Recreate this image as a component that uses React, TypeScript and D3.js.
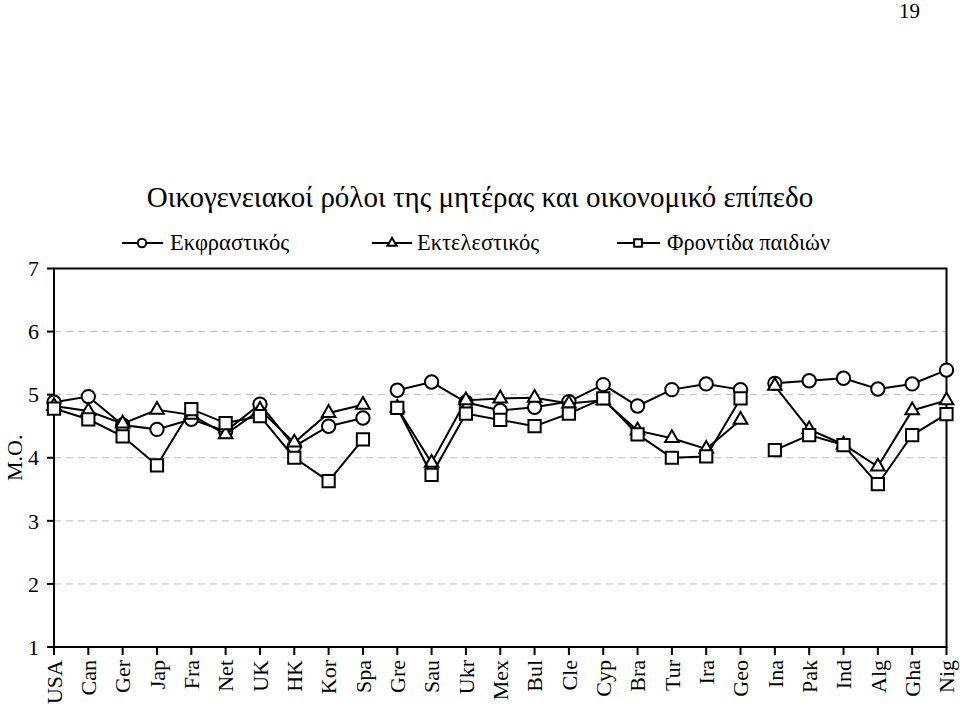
import React from "react";
import * as d3 from "d3";

const countries = ["USA","Can","Ger","Jap","Fra","Net","UK","HK","Kor","Spa","Gre","Sau","Ukr","Mex","Bul","Cle","Cyp","Bra","Tur","Ira","Geo","Ina","Pak","Ind","Alg","Gha","Nig"];
const countryGroup = [0,0,0,0,0,0,0,0,0,0,1,1,1,1,1,1,1,1,1,1,1,2,2,2,2,2,2];
const expressive = [4.88,4.97,4.52,4.45,4.61,4.42,4.85,4.18,4.50,4.63,5.07,5.20,4.88,4.75,4.80,4.89,5.16,4.82,5.08,5.17,5.08,5.18,5.22,5.26,5.09,5.17,5.39];
const executive = [4.82,4.74,4.54,4.76,4.68,4.37,4.76,4.24,4.71,4.84,4.79,3.92,4.91,4.94,4.95,4.86,4.91,4.43,4.31,4.14,4.60,5.14,4.45,4.21,3.86,4.75,4.91];
const childcare = [4.78,4.61,4.34,3.88,4.77,4.55,4.66,4.00,3.63,4.29,4.79,3.73,4.70,4.60,4.50,4.70,4.94,4.37,4.00,4.02,4.94,4.12,4.36,4.20,3.58,4.36,4.69];
const seriesNames = ["Εκφραστικός","Εκτελεστικός","Φροντίδα παιδιών"];
const yTicks = [1,2,3,4,5,6,7];
const gridTicks = [2,3,4,5,6];
const titleText = "Οικογενειακοί ρόλοι της μητέρας και οικονομικό επίπεδο";
const yLabel = "M.O.";
const pageNumber = "19";

const FONT = "\"Liberation Serif\", \"Times New Roman\", serif";

export default function App() {
  const left = 54, right = 946.5, top = 268.5, bottom = 647;
  const x = d3.scalePoint<string>().domain(countries).range([left, right]).padding(0);
  const y = d3.scaleLinear().domain([1, 7]).range([bottom, top]);

  const seriesData = [expressive, executive, childcare];
  const symbols = [d3.symbolCircle, d3.symbolTriangle, d3.symbolSquare];
  const sizes = [140, 80, 150];
  const legendSizes = [55, 36, 60];

  const segments = (vals: number[]) => {
    const groups = Array.from(new Set(countryGroup));
    return groups.map((g) => {
      const idx = countryGroup.map((cg, i) => (cg === g ? i : -1)).filter((i) => i >= 0);
      return idx.map((i) => [x(countries[i]) as number, y(vals[i])] as [number, number]);
    });
  };
  const segLine = d3.line<[number, number]>().x((d) => d[0]).y((d) => d[1]);

  const legendItems = [
    { x1: 122, x2: 163, mx: 142, tx: 170 },
    { x1: 372, x2: 412, mx: 392, tx: 417 },
    { x1: 617, x2: 660, mx: 638, tx: 667 },
  ];
  const legendY = 243;
  const ts = { fontFamily: FONT };

  return (
    <svg width={960} height={710} style={{ position: "absolute", left: 0, top: 0, background: "#fff", fontFamily: FONT }}>
      <rect x={0} y={0} width={960} height={710} fill="#fff" />
      <text style={ts} x={920} y={18} fontSize={21} textAnchor="end">{pageNumber}</text>
      <text style={ts} x={480} y={207} fontSize={29} textAnchor="middle">{titleText}</text>

      {legendItems.map((li, k) => (
        <g key={k}>
          <line x1={li.x1} x2={li.x2} y1={legendY} y2={legendY} stroke="#000" strokeWidth={2} />
          <path
            d={d3.symbol().type(symbols[k]).size(legendSizes[k])() as string}
            transform={`translate(${li.mx},${legendY})`}
            fill="#fff" stroke="#000" strokeWidth={2}
          />
          <text style={ts} x={li.tx} y={legendY + 7} fontSize={22.5}>{seriesNames[k]}</text>
        </g>
      ))}

      {gridTicks.map((t) => (
        <line key={t} x1={left} x2={right} y1={y(t)} y2={y(t)} stroke="#bdbdbd" strokeWidth={1} strokeDasharray="7,5" />
      ))}

      <rect x={left} y={top} width={right - left} height={bottom - top} fill="none" stroke="#000" strokeWidth={2} />

      {yTicks.map((t) => (
        <g key={t}>
          <line x1={left - 7} x2={left} y1={y(t)} y2={y(t)} stroke="#000" strokeWidth={2} />
          <text style={ts} x={39} y={y(t)} dy="0.35em" fontSize={22} textAnchor="end">{t}</text>
        </g>
      ))}

      {countries.map((c) => (
        <g key={c}>
          <line x1={x(c)} x2={x(c)} y1={bottom} y2={bottom + 8} stroke="#000" strokeWidth={2} />
          <text
            style={ts}
            transform={`translate(${x(c)},${660}) rotate(-90)`}
            dy="0.35em" fontSize={22} textAnchor="end"
          >{c}</text>
        </g>
      ))}

      <text style={ts} transform={`translate(14,${(top + bottom) / 2}) rotate(-90)`} dy="0.35em" fontSize={22} textAnchor="middle">{yLabel}</text>

      {seriesData.map((vals, k) => (
        <g key={k}>
          {segments(vals).map((seg, j) => (
            <path key={j} d={segLine(seg) as string} fill="none" stroke="#000" strokeWidth={2} />
          ))}
          {vals.map((v, i) => (
            <path
              key={i}
              d={d3.symbol().type(symbols[k]).size(sizes[k])() as string}
              transform={`translate(${x(countries[i])},${y(v)})`}
              fill="#fff" stroke="#000" strokeWidth={2}
            />
          ))}
        </g>
      ))}
    </svg>
  );
}
